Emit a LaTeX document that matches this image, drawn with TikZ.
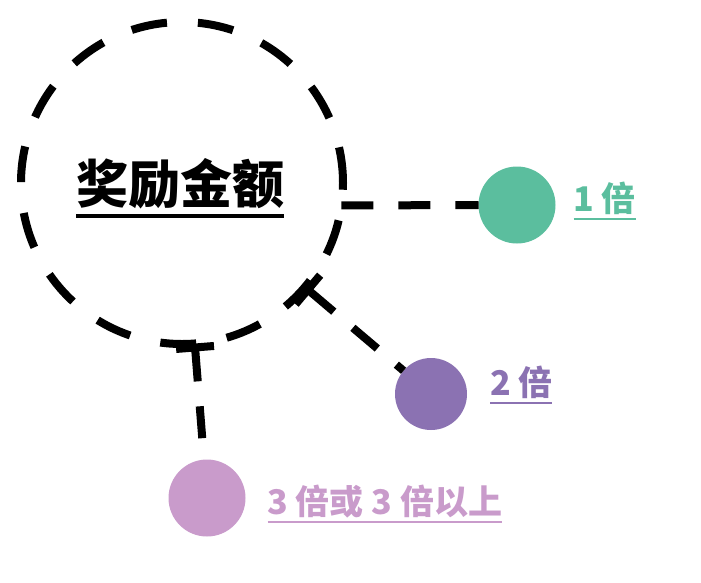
\documentclass[tikz,border=0pt]{standalone}
\usepackage{fontspec}
\newfontfamily\cjk{Noto Sans CJK SC}
\usetikzlibrary{arrows.meta, positioning}
\definecolor{jade}{HTML}{5BBE9E}
\definecolor{lilac}{HTML}{8B72B2}
\definecolor{orchid}{HTML}{C99BCB}
\newcommand\tagline[2]{\setbox0\hbox{#2}\rlap{\rule[-0.27em]{\wd0}{#1}}\box0}

\begin{document}
\begin{tikzpicture}[
    x=1pt, y=-1pt,
    line width=8pt,
    ring/.style={draw, circle, dash pattern=on 36pt off 31pt, minimum size=322pt, inner sep=0pt, outer sep=0pt},
    dot/.style={circle, fill=#1, minimum size=77pt, inner sep=0pt, outer sep=0pt},
    tag/.style={text=#1, font=\cjk\bfseries\fontsize{34}{36}\selectfont, inner sep=0pt},
    link/.style={draw, dash pattern=on 32pt off 25pt},
    node distance=18pt
  ]
  \useasboundingbox (0,0) rectangle (701,582);

  % --- centro ---
  \node[ring] (big) at (182,183) {};
  \node[font=\cjk\bfseries\fontsize{52}{56}\selectfont, inner sep=0pt] (title)
    at ([xshift=-2pt, yshift=-5pt]big.center) {\tagline{0.065em}{奖励金额}};

  % --- circulos ---
  \node[dot=jade] (green) at (517,205) {};
  \node[dot=lilac, minimum size=72pt] (purple) at (431,394) {};
  \node[dot=orchid] (pink) at (207,498) {};

  % --- etiquetas ---
  \node[tag=jade, right=14pt of green, yshift=4pt] (one) {\tagline{0.06em}{1 倍}};
  \node[tag=lilac, right=19pt of purple, yshift=9pt] (two) {\tagline{0.06em}{2 倍}};
  \node[tag=orchid, right=18pt of pink, yshift=-6pt] (three) {\tagline{0.06em}{3 倍或 3 倍以上}};

  % --- conexiones ---
  \draw[link] (big.-8) -- (green);
  \draw[link, {Bar[width=38pt]}-] (big) -- (purple);
  \draw[link, {Bar[width=38pt]}-] (big) -- (pink);
\end{tikzpicture}
\end{document}
